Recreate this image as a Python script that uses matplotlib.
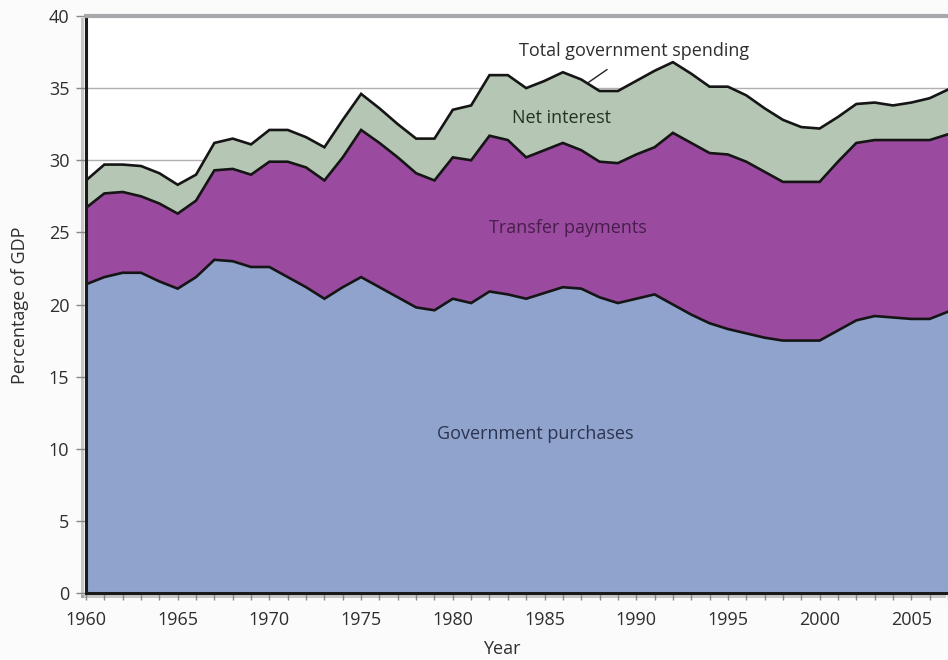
import matplotlib
matplotlib.use('Agg')
import matplotlib.pyplot as plt
import matplotlib.patheffects as pe
import numpy as np

# Data (percent of GDP)
YEARS = list(range(1960, 2008))

PURCHASES = [21.4, 21.9, 22.2, 22.2, 21.6, 21.1, 21.9, 23.1, 23.0, 22.6,
             22.6, 21.9, 21.2, 20.4, 21.2, 21.9, 21.2, 20.5, 19.8, 19.6,
             20.4, 20.1, 20.9, 20.7, 20.4, 20.8, 21.2, 21.1, 20.5, 20.1,
             20.4, 20.7, 20.0, 19.3, 18.7, 18.3, 18.0, 17.7, 17.5, 17.5,
             17.5, 18.2, 18.9, 19.2, 19.1, 19.0, 19.0, 19.5]

TRANSFERS = [5.3, 5.8, 5.6, 5.3, 5.4, 5.2, 5.3, 6.2, 6.4, 6.4,
             7.3, 8.0, 8.3, 8.2, 9.0, 10.2, 10.0, 9.7, 9.3, 9.0,
             9.8, 9.9, 10.8, 10.7, 9.8, 9.9, 10.0, 9.6, 9.4, 9.7,
             10.0, 10.2, 11.9, 11.9, 11.8, 12.1, 11.9, 11.5, 11.0, 11.0,
             11.0, 11.7, 12.3, 12.2, 12.3, 12.4, 12.4, 12.3]

NET_INTEREST = [1.9, 2.0, 1.9, 2.1, 2.1, 2.0, 1.8, 1.9, 2.1, 2.1,
                2.2, 2.2, 2.1, 2.3, 2.6, 2.5, 2.4, 2.3, 2.4, 2.9,
                3.3, 3.8, 4.2, 4.5, 4.8, 4.8, 4.9, 4.9, 4.9, 5.0,
                5.1, 5.3, 4.9, 4.8, 4.6, 4.7, 4.6, 4.4, 4.3, 3.8,
                3.7, 3.1, 2.7, 2.6, 2.4, 2.6, 2.9, 3.1]

X_TICKS = [1960, 1965, 1970, 1975, 1980, 1985, 1990, 1995, 2000, 2005]
Y_TICKS = [0, 5, 10, 15, 20, 25, 30, 35, 40]

BLUE = '#8fa3cc'
PURPLE = '#9a4b9f'
GREEN = '#b5c7b4'
TEXT = '#2e2e2e'

FONT = 'Open Sans'
SIZE = 13


def draw_areas(ax):
    """Stacked areas plus black boundary lines."""
    ax.stackplot(YEARS, PURCHASES, TRANSFERS, NET_INTEREST,
                 colors=[BLUE, PURPLE, GREEN], linewidth=0, zorder=2)
    tops = np.cumsum([PURCHASES, TRANSFERS, NET_INTEREST], axis=0)
    for top in tops:
        ax.plot(YEARS, top, color='#151515', lw=1.9, zorder=3,
                solid_joinstyle='miter')


def label_areas(ax):
    ax.text(1984.5, 11.0, 'Government purchases', ha='center', va='center',
            fontsize=SIZE, color='#2c3350', family=FONT, zorder=5)
    ax.text(1986.3, 25.3, 'Transfer payments', ha='center', va='center',
            fontsize=SIZE, color='#481d4c', family=FONT, zorder=5)
    ax.text(1985.9, 32.9, 'Net interest', ha='center', va='center',
            fontsize=SIZE, color='#263126', family=FONT, zorder=5)
    ax.annotate('Total government spending', xy=(1987.4, 35.4),
                xytext=(1989.9, 37.6), ha='center', va='center',
                fontsize=SIZE, color=TEXT, family=FONT, zorder=5,
                arrowprops=dict(arrowstyle='-', color='#222222', lw=1,
                                shrinkA=9, shrinkB=0))


def style_axes(ax):
    ax.set_xlim(1960, 2006.47)
    ax.set_ylim(0, 40)
    ax.set_facecolor('white')

    ax.set_xticks(X_TICKS)
    ax.set_xticks(YEARS, minor=True)
    ax.set_yticks(Y_TICKS)
    ax.tick_params(axis='x', which='both', direction='out', length=5,
                   width=1, color='#888888', pad=8, labelsize=SIZE,
                   labelcolor=TEXT)
    ax.tick_params(axis='y', direction='out', length=7, width=1,
                   color='#888888', pad=5, labelsize=SIZE, labelcolor=TEXT)
    for lbl in ax.get_xticklabels() + ax.get_yticklabels():
        lbl.set_family(FONT)

    # horizontal gridlines sit behind the areas
    for y in Y_TICKS[1:-1]:
        ax.axhline(y, color='#b0b0b0', lw=1, zorder=1)

    shadow = [pe.SimpleLineShadow(offset=(-3, -2), shadow_color='#888888',
                                  alpha=0.45), pe.Normal()]
    ax.spines['left'].set_linewidth(2.2)
    ax.spines['left'].set_color('#1a1a1a')
    ax.spines['left'].set_path_effects(shadow)
    ax.spines['bottom'].set_linewidth(2.2)
    ax.spines['bottom'].set_color('#1a1a1a')
    ax.spines['bottom'].set_path_effects(shadow)
    ax.spines['top'].set_linewidth(3)
    ax.spines['top'].set_color('#a8a8ac')
    ax.spines['right'].set_visible(False)
    for side in ('left', 'bottom', 'top'):
        ax.spines[side].set_zorder(6)


def main():
    fig = plt.figure(figsize=(9.48, 6.6), dpi=100, facecolor='#fbfbfb')
    ax = fig.add_axes([86 / 948, 1 - 593 / 660, 1 - 86 / 948, 577 / 660])

    draw_areas(ax)
    label_areas(ax)
    style_axes(ax)

    fig.text(20 / 948, 1 - 305 / 660, 'Percentage of GDP', rotation=90,
             ha='center', va='center', fontsize=SIZE, color=TEXT, family=FONT)
    fig.text(502 / 948, 1 - 649 / 660, 'Year', ha='center', va='center',
             fontsize=SIZE, color=TEXT, family=FONT)

    fig.savefig('out.png', dpi=100, facecolor=fig.get_facecolor())
    plt.close(fig)


if __name__ == '__main__':
    main()
